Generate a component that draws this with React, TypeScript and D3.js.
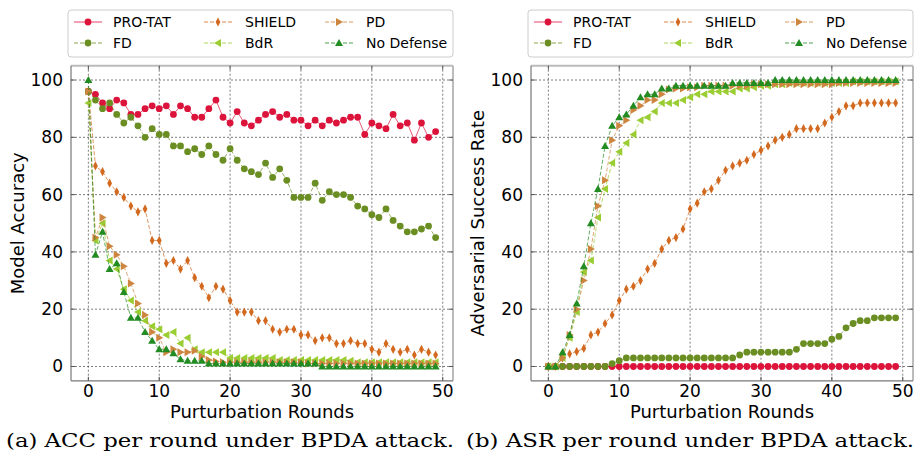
import React from "react";
import * as d3 from "d3";

const rounds = d3.range(50);
const xTicks = [0, 10, 20, 30, 40, 50];
const yTicks = [0, 20, 40, 60, 80, 100];

// Panel (a): model accuracy
const proTatAcc = [96, 95, 92, 90, 93, 92, 88, 88, 90, 91, 90, 91, 88, 91, 90, 87, 87, 90, 93, 87, 85, 89, 85, 84, 86, 88, 89, 87, 88, 86, 86, 84, 86, 84, 86, 85, 86, 87, 87, 81, 85, 84, 83, 88, 84, 85, 79, 85, 80, 82];
const fdAcc = [96, 93, 90, 92, 88, 85, 87, 84, 80, 83, 81, 81, 77, 77, 75, 76, 74, 77, 74, 72, 76, 72, 69, 68, 67, 71, 66, 69, 65, 59, 59, 59, 64, 58, 61, 60, 60, 59, 56, 55, 53, 52, 55, 51, 49, 47, 47, 48, 49, 45];
const shieldAcc = [96, 70, 68, 64, 61, 59, 56, 54, 55, 44, 44, 36, 37, 34, 37, 31, 28, 24, 28, 27, 23, 19, 19, 19, 16, 16, 13, 12, 13, 13, 11, 11, 9, 10, 10, 8, 8, 9, 8, 8, 6, 5, 8, 6, 5, 6, 4, 6, 5, 4];
const bdrAcc = [92, 44, 50, 37, 34, 27, 23, 19, 16, 14, 13, 11, 12, 8, 10, 6, 5, 5, 5, 5, 3, 3, 3, 3, 3, 3, 3, 2.3, 2.3, 2.3, 2.3, 2.3, 2.3, 2.3, 2.3, 2.3, 2.3, 2, 1.5, 1.5, 1.5, 1.5, 1.5, 1.5, 1.5, 1.5, 1.5, 1.5, 1.5, 1.5];
const pdAcc = [96, 45, 52, 42, 39, 35, 29, 22, 18, 12, 10, 5, 6, 5, 5, 5.5, 3.5, 2.3, 1.7, 1.5, 1.5, 1.5, 1.5, 1.5, 1.5, 1.5, 1.5, 1.5, 1.5, 1.5, 1.5, 1, 1, 1, 1, 1, 1, 1, 1, 1, 1, 1, 1, 1, 1, 1, 1, 1, 1, 1];
const ndAcc = [100, 39, 47, 34, 36, 26, 17, 17, 12, 9, 6, 6, 4.6, 2.5, 2, 2, 2, 1, 1, 1, 1, 1, 1, 1, 1, 1, 1, 1, 1, 1, 1, 1, 1, 0, 0, 0, 0, 0, 0, 0, 0, 0, 0, 0, 0, 0, 0, 0, 0, 0];

// Panel (b): adversarial success rate
const proTatAsr = [0, 0, 0, 0, 0, 0, 0, 0, 0, 0, 0, 0, 0, 0, 0, 0, 0, 0, 0, 0, 0, 0, 0, 0, 0, 0, 0, 0, 0, 0, 0, 0, 0, 0, 0, 0, 0, 0, 0, 0, 0, 0, 0, 0, 0, 0, 0, 0, 0, 0];
const fdAsr = [0, 0, 0, 0, 0, 0, 0, 0, 0, 1, 2, 3, 3, 3, 3, 3, 3, 3, 3, 3, 3, 3, 3, 3, 3, 3, 3, 4, 5, 5, 5, 5, 5, 5, 5, 6, 8, 8, 8, 8, 9.5, 10.5, 13.5, 15, 16, 16, 17, 17, 17, 17];
const shieldAsr = [0, 0, 3, 4.4, 5.2, 6.3, 11, 12, 15, 18, 23, 27, 28, 30, 34, 36, 41, 44, 45, 48, 55, 57, 61, 62, 65, 68.5, 70, 71, 72, 74, 75.5, 77, 79, 80, 81, 83, 83, 83, 83, 85, 87, 89, 91, 91, 92, 92, 92, 92, 92, 92];
const bdrAsr = [0, 0, 3, 10, 19, 33, 37, 52, 62, 71, 75, 78, 81, 86, 87, 89, 92, 92, 92, 93, 94, 95, 95, 96, 96, 96, 96, 97, 97, 97.5, 98, 98, 98.5, 98.5, 99, 99, 99, 99, 99, 99, 99, 99, 99, 99.5, 99.5, 99.5, 99.5, 99.5, 99.5, 99.5];
const pdAsr = [0, 0, 3, 11, 20, 30, 41, 56, 65, 79, 84, 86, 89.5, 91, 93, 93, 95, 96.7, 97, 97, 97.5, 97.5, 98, 98, 98, 98, 98, 98, 98, 98.5, 98.5, 98.5, 98.5, 98.5, 98.5, 98.5, 98.5, 98.5, 98.5, 98.5, 98.5, 99, 99, 99, 99, 99, 99, 99, 99, 99];
const ndAsr = [0, 0, 5, 11, 22, 35, 50, 62, 77, 84, 87, 88, 91, 94, 95, 95, 97, 97, 98, 98, 98, 98, 98, 98, 98, 98, 99, 99, 99, 99, 99, 99, 100, 100, 100, 100, 100, 100, 100, 100, 100, 100, 100, 100, 100, 100, 100, 100, 100, 100];

const seriesNames = ["PRO-TAT", "FD", "SHIELD", "BdR", "PD", "No Defense"];
const seriesColors = ["#DC143C", "#6B8E23", "#D2691E", "#9ACD32", "#CD853F", "#228B22"];
const seriesMarkers = ["circle", "circle", "thin_diamond", "tri_left", "tri_right", "tri_up"];
const seriesDash = [null, "4,2", "4,2", "4,2", "4,2", "4,2"];
const accSeries = [proTatAcc, fdAcc, shieldAcc, bdrAcc, pdAcc, ndAcc];
const asrSeries = [proTatAsr, fdAsr, shieldAsr, bdrAsr, pdAsr, ndAsr];

const FONT = "DejaVu Sans, sans-serif";

function Marker({ type, x, y, color }: { type: string; x: number; y: number; color: string }) {
  if (type === "circle") return <circle cx={x} cy={y} r={3.4} fill={color} />;
  let p = "";
  const s = 4;
  if (type === "thin_diamond") p = `M${x},${y - 4.6}L${x + 2.4},${y}L${x},${y + 4.6}L${x - 2.4},${y}Z`;
  if (type === "tri_up") p = `M${x},${y - s}L${x + s},${y + s * 0.75}L${x - s},${y + s * 0.75}Z`;
  if (type === "tri_right") p = `M${x + s},${y}L${x - s * 0.75},${y - s}L${x - s * 0.75},${y + s}Z`;
  if (type === "tri_left") p = `M${x - s},${y}L${x + s * 0.75},${y - s}L${x + s * 0.75},${y + s}Z`;
  return <path d={p} fill={color} />;
}

function Panel({ ox, series, yLabel, caption }: { ox: number; series: number[][]; yLabel: string; caption: string }) {
  const x0 = ox + 71, x1 = ox + 453, y0 = 65.7, y1 = 380.8;
  const xs = d3.scaleLinear().domain([-2.45, 51.45]).range([x0, x1]);
  const ys = d3.scaleLinear().domain([-5, 105]).range([y1, y0]);
  const line = d3.line<number>().x((_, i) => xs(rounds[i])).y((d) => ys(d));
  return (
    <g>
      {xTicks.map((t) => (
        <line key={"gx" + t} x1={xs(t)} x2={xs(t)} y1={y0} y2={y1} stroke="#333" strokeWidth={0.8} strokeDasharray="2,2" opacity={0.8} />
      ))}
      {yTicks.map((t) => (
        <line key={"gy" + t} x1={x0} x2={x1} y1={ys(t)} y2={ys(t)} stroke="#333" strokeWidth={0.8} strokeDasharray="2,2" opacity={0.8} />
      ))}
      {series.map((s, k) => (
        <g key={"s" + k}>
          <path d={line(s) || ""} fill="none" stroke={seriesColors[k]} strokeWidth={1} strokeOpacity={0.7} strokeDasharray={seriesDash[k] || undefined} />
          {s.map((v, i) => (
            <Marker key={i} type={seriesMarkers[k]} x={xs(rounds[i])} y={ys(v)} color={seriesColors[k]} />
          ))}
        </g>
      ))}
      <line x1={x0} x2={x1} y1={y0} y2={y0} stroke="#bbb" strokeWidth={2} />
      <line x1={x1} x2={x1} y1={y0} y2={y1} stroke="#bbb" strokeWidth={2} />
      <line x1={x0} x2={x0} y1={y0} y2={y1} stroke="#777" strokeWidth={1.2} />
      <line x1={x0} x2={x1} y1={y1} y2={y1} stroke="#777" strokeWidth={1.2} />
      {xTicks.map((t) => (
        <g key={"tx" + t}>
          <line x1={xs(t)} x2={xs(t)} y1={y1} y2={y1 - 4} stroke="#555" />
          <line x1={xs(t)} x2={xs(t)} y1={y0} y2={y0 + 4} stroke="#555" />
          <text x={xs(t)} y={y1 + 16} textAnchor="middle" fontFamily={FONT} fontSize={17} fill="#000">{t}</text>
        </g>
      ))}
      {yTicks.map((t) => (
        <g key={"ty" + t}>
          <line x1={x0} x2={x0 + 4} y1={ys(t)} y2={ys(t)} stroke="#555" />
          <line x1={x1} x2={x1 - 4} y1={ys(t)} y2={ys(t)} stroke="#555" />
          <text x={x0 - 8} y={ys(t) + 6} textAnchor="end" fontFamily={FONT} fontSize={17} fill="#000">{t}</text>
        </g>
      ))}
      <text x={(x0 + x1) / 2} y={418} textAnchor="middle" fontFamily={FONT} fontSize={18} fill="#000">Purturbation Rounds</text>
      <text transform={`translate(${ox + 24},${(y0 + y1) / 2}) rotate(-90)`} textAnchor="middle" fontFamily={FONT} fontSize={18} fill="#000">{yLabel}</text>
      <rect x={ox + 68} y={10} width={385} height={47} rx={3} fill="#fff" fillOpacity={0.9} stroke="#ccc" strokeWidth={1} />
      {seriesNames.map((n, k) => {
        const col = Math.floor(k / 2), row = k % 2;
        const hx = ox + [74, 204, 325][col];
        const tx = ox + [113, 245, 366][col];
        const cy = row === 0 ? 22 : 43;
        return (
          <g key={"l" + k}>
            <line x1={hx} x2={hx + 28} y1={cy} y2={cy} stroke={seriesColors[k]} strokeWidth={1} strokeOpacity={0.8} strokeDasharray={seriesDash[k] || undefined} />
            <Marker type={seriesMarkers[k]} x={hx + 14} y={cy} color={seriesColors[k]} />
            <text x={tx} y={cy + 5} fontFamily={FONT} fontSize={14} fill="#000">{n}</text>
          </g>
        );
      })}
      <text x={ox + 230} y={447} textAnchor="middle" fontFamily="DejaVu Serif, serif" fontSize={19} textLength={448} lengthAdjust="spacingAndGlyphs" fill="#000">{caption}</text>
    </g>
  );
}

export default function App() {
  return (
    <svg width={914} height={459} style={{ position: "absolute", left: 0, top: 0, background: "#fff" }}>
      <rect width={914} height={459} fill="#fff" />
      <Panel ox={0} series={accSeries} yLabel="Model Accuracy" caption="(a) ACC per round under BPDA attack." />
      <Panel ox={460} series={asrSeries} yLabel="Adversarial Success Rate" caption="(b) ASR per round under BPDA attack." />
    </svg>
  );
}
